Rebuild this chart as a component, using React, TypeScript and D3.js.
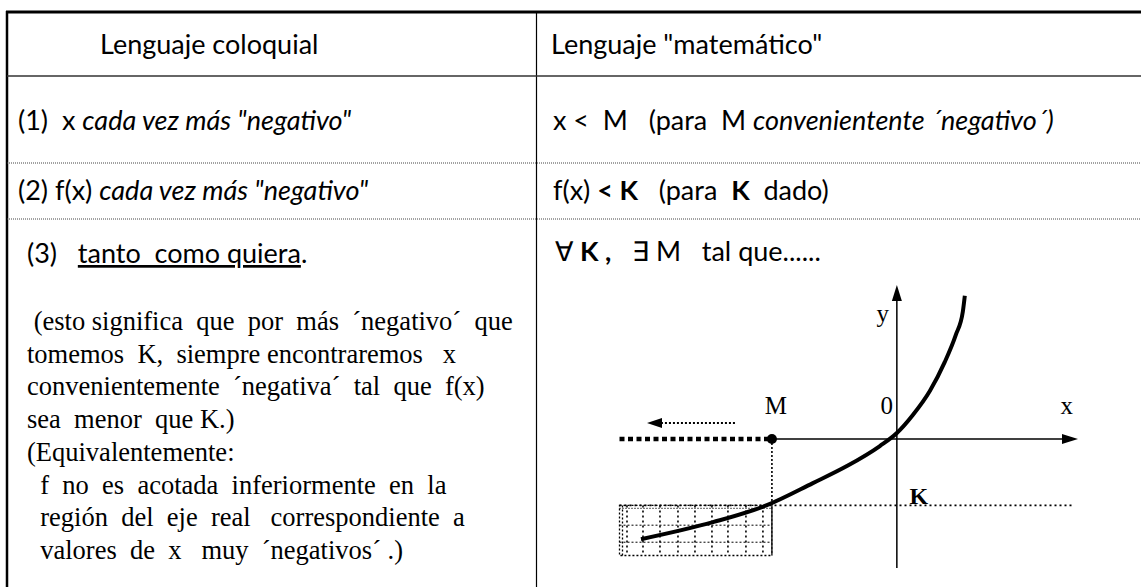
import React from 'react';
import * as d3 from 'd3';

const W = 1141;
const H = 587;

// --- table text ---
const headers = ['Lenguaje coloquial', 'Lenguaje "matemático"'];
const paragraph = [
  ' (esto significa  que  por  más  ´negativo´  que',
  'tomemos  K,  siempre encontraremos   x',
  'convenientemente  ´negativa´  tal  que  f(x)',
  'sea  menor  que K.)',
  '(Equivalentemente:',
  '  f  no  es  acotada  inferiormente  en  la',
  '  región  del  eje  real   correspondiente  a',
  '  valores  de  x   muy  ´negativos´ .)',
];

// --- sketch values (sketch units) ---
const curveX = [-10.24, -7.36, -5.2, -3.36, -2.0, -0.68, 0.0, 0.64, 1.32, 1.92, 2.36, 2.64, 2.72];
const curveY = [-4.0, -3.32, -2.64, -1.76, -1.08, -0.28, 0.24, 0.96, 1.92, 3.08, 4.16, 5.08, 5.72];
const xAxisExtent = [-5, 7.25];
const yAxisExtent = [-5.15, 6.15];
const leftRay = [-11.1, -5];
const M = -5;
const K = -2.65;
const gridBottom = -4.65;
const gridX = [-10.8, -10.16, -9.48, -8.76, -8.08, -7.4, -6.76, -6.04, -5.36];
const gridY = [-3.44, -4.12];
const hintArrowX = [-6.48, -10.0];
const hintArrowY = 0.64;

const sans = 'Lato, "Open Sans", sans-serif';
const serif = '"Liberation Serif", "Times New Roman", serif';

export default function App() {
  const x = d3.scaleLinear().domain([leftRay[0], xAxisExtent[1]]).range([619.5, 1078]);
  const y = d3.scaleLinear().domain(yAxisExtent).range([568, 285]);

  const pts: [number, number][] = curveX.map((v, i) => [v, curveY[i]]);
  const line = d3
    .line<[number, number]>()
    .x((d) => x(d[0]))
    .y((d) => y(d[1]))
    .curve(d3.curveMonotoneX);

  const colX = 536.5;
  const rowLines = { header: 76, r1: 163, r2: 219 };

  const xa = x(xAxisExtent[1]);
  const y0 = y(0);
  const ya = y(yAxisExtent[1]);
  const x0 = x(0);

  return (
    <svg
      width={W}
      height={H}
      style={{ position: 'absolute', left: 0, top: 0, background: '#fff' }}
    >
      {/* table frame */}
      <line x1={6} x2={W} y1={12} y2={12} stroke="#000" strokeWidth={2.8} />
      <line x1={7} x2={7} y1={11} y2={H} stroke="#000" strokeWidth={2.5} />
      <line x1={colX} x2={colX} y1={12} y2={H} stroke="#000" strokeWidth={1.2} />
      <line x1={7} x2={W} y1={rowLines.header} y2={rowLines.header} stroke="#333" strokeWidth={1.5} />
      <line x1={7} x2={W} y1={rowLines.r1} y2={rowLines.r1} stroke="#444" strokeWidth={1} strokeDasharray="1,1" />
      <line x1={7} x2={W} y1={rowLines.r2} y2={rowLines.r2} stroke="#444" strokeWidth={1} strokeDasharray="1,1" />

      <g fontFamily={sans} fontSize={27} fill="#000">
        <text xmlSpace="preserve" x={100} y={54}>{headers[0]}</text>
        <text xmlSpace="preserve" x={551} y={54}>{headers[1]}</text>

        <text xmlSpace="preserve" x={18} y={130}>
          {'(1)  x '}<tspan fontStyle="italic">{'cada vez más "negativo"'}</tspan>
        </text>
        <text xmlSpace="preserve" x={553} y={130}>
          {'x <  M   (para  M '}<tspan fontStyle="italic">{'convenientente ´negativo´)'}</tspan>
        </text>

        <text xmlSpace="preserve" x={18} y={200}>
          {'(2) f(x) '}<tspan fontStyle="italic">{'cada vez más "negativo"'}</tspan>
        </text>
        <text xmlSpace="preserve" x={553} y={200}>
          {'f(x) '}<tspan fontWeight="bold">{'< K'}</tspan>{'   (para  '}<tspan fontWeight="bold">K</tspan>{'  dado)'}
        </text>

        <text xmlSpace="preserve" x={27} y={263}>
          {'(3)   '}<tspan textDecoration="underline">{'tanto  como quiera'}</tspan>{'.'}
        </text>
        <text xmlSpace="preserve" x={555} y={261}>
          {'∀ '}<tspan fontWeight="bold">{'K ,'}</tspan>{'   ∃ M   tal que......'}
        </text>
      </g>

      <g fontFamily={serif} fontSize={26.5} fill="#000">
        {paragraph.map((t, i) => (
          <text key={i} xmlSpace="preserve" x={27} y={330 + i * 32.7}>
            {t}
          </text>
        ))}
      </g>

      {/* sketch */}
      <g>
        {/* grid under K, left of M */}
        {gridX.map((g) => (
          <line key={'gx' + g} x1={x(g)} x2={x(g)} y1={y(K)} y2={y(gridBottom)} stroke="#000" strokeWidth={1.6} strokeDasharray="2,3" />
        ))}
        {gridY.map((g) => (
          <line key={'gy' + g} x1={x(leftRay[0])} x2={x(M)} y1={y(g)} y2={y(g)} stroke="#000" strokeWidth={1} strokeDasharray="2,2" />
        ))}
        <rect
          x={x(leftRay[0])}
          y={y(K)}
          width={x(M) - x(leftRay[0])}
          height={y(gridBottom) - y(K)}
          fill="none"
          stroke="#000"
          strokeWidth={1.3}
          strokeDasharray="2,2"
        />
        <line x1={x(leftRay[0]) + 3} x2={x(leftRay[0]) + 3} y1={y(K)} y2={y(gridBottom)} stroke="#000" strokeWidth={1.3} strokeDasharray="2,2" />
        <line x1={x(leftRay[0])} x2={x(M)} y1={y(K) + 3} y2={y(K) + 3} stroke="#000" strokeWidth={1.3} strokeDasharray="1,2" />

        {/* K level line */}
        <line x1={x(leftRay[0])} x2={x(7.05)} y1={y(K)} y2={y(K)} stroke="#000" strokeWidth={1.6} strokeDasharray="2,3" />
        {/* vertical from M */}
        <line x1={x(M)} x2={x(M)} y1={y0} y2={y(gridBottom)} stroke="#000" strokeWidth={1.6} strokeDasharray="2,2" />

        {/* axes */}
        <line x1={x(M)} x2={xa - 12} y1={y0} y2={y0} stroke="#000" strokeWidth={1.5} />
        <path d={`M${xa},${y0} L${xa - 16},${y0 - 5} L${xa - 16},${y0 + 5} Z`} fill="#000" />
        <line x1={x0} x2={x0} y1={y(yAxisExtent[0])} y2={ya + 12} stroke="#000" strokeWidth={1.5} />
        <path d={`M${x0},${ya} L${x0 - 5},${ya + 16} L${x0 + 5},${ya + 16} Z`} fill="#000" />

        {/* x < M ray */}
        <line x1={x(leftRay[0])} x2={x(leftRay[1])} y1={y0} y2={y0} stroke="#000" strokeWidth={4.5} strokeDasharray="5,3.5" />
        <circle cx={x(M)} cy={y0} r={5} fill="#000" />

        {/* direction hint arrow */}
        <line x1={x(hintArrowX[0])} x2={x(hintArrowX[1]) + 10} y1={y(hintArrowY)} y2={y(hintArrowY)} stroke="#000" strokeWidth={2} strokeDasharray="2,2" />
        <path
          d={`M${x(hintArrowX[1])},${y(hintArrowY)} L${x(hintArrowX[1]) + 15},${y(hintArrowY) - 5} L${x(hintArrowX[1]) + 15},${y(hintArrowY) + 5} Z`}
          fill="#000"
        />

        {/* f */}
        <path d={line(pts) ?? ''} fill="none" stroke="#000" strokeWidth={4} strokeLinecap="butt" />

        {/* labels */}
        <g fontFamily={serif} fontSize={25} fill="#000">
          <text x={x(M) + 4} y={y0 - 25} textAnchor="middle">M</text>
          <text x={x0 - 10} y={y0 - 25} textAnchor="middle">0</text>
          <text x={x(6.8)} y={y0 - 25} textAnchor="middle">x</text>
          <text x={x0 - 14} y={y(4.68)} textAnchor="middle">y</text>
          <text x={x0 + 22} y={y(K) - 1} textAnchor="middle" fontWeight="bold" fontSize={24}>K</text>
        </g>
      </g>
    </svg>
  );
}
